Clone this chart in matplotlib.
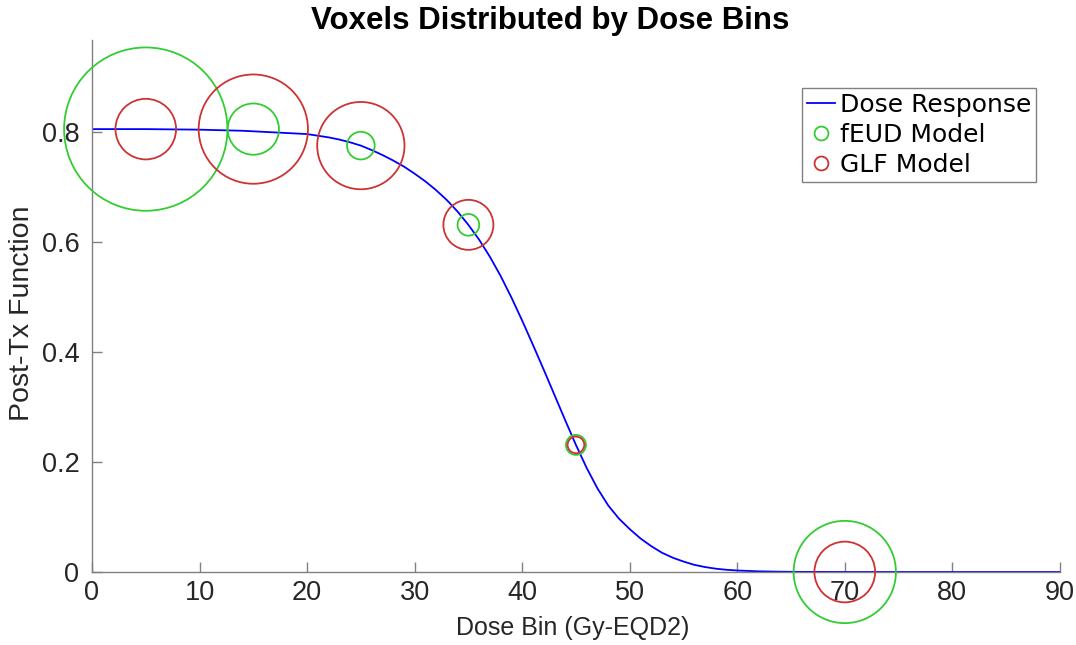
import matplotlib
matplotlib.use("Agg")
from matplotlib import pyplot as plt
from matplotlib.lines import Line2D

# dose response curve
dose = [0, 5, 10, 12, 14, 16, 18, 20, 21, 22, 23, 24, 25, 26, 27, 28, 29, 30,
        31, 32, 33, 34, 35, 36, 37, 38, 39, 40, 41, 42, 43, 44, 45, 46, 47, 48,
        49, 50, 51, 52, 53, 54, 55, 56, 57, 58, 59, 60, 62, 64, 66, 70, 80, 90]
response = [0.805, 0.805, 0.804, 0.803, 0.802, 0.800, 0.798, 0.796, 0.793, 0.790,
            0.786, 0.781, 0.775, 0.767, 0.758, 0.748, 0.737, 0.724, 0.710, 0.694,
            0.676, 0.655, 0.631, 0.604, 0.573, 0.538, 0.499, 0.457, 0.413, 0.368,
            0.322, 0.276, 0.231, 0.189, 0.152, 0.121, 0.097, 0.078, 0.061, 0.047,
            0.035, 0.026, 0.019, 0.013, 0.009, 0.006, 0.004, 0.0027, 0.0012,
            0.0005, 0.0002, 0.0, 0.0, 0.0]

# dose bins and model points
bins = [5, 15, 25, 35, 45, 70]
bin_values = [0.805, 0.805, 0.775, 0.631, 0.231, 0.0]
feud_sizes = [13830, 1364, 397, 244, 207, 5424]
glf_sizes = [1903, 6190, 3950, 1296, 144, 1910]

green = "#33cc33"
red = "#cc3333"
axis_gray = "#808080"
text_gray = "#262626"

fig = plt.figure(figsize=(10.76, 6.45), dpi=100)
ax = fig.add_axes([0.0855, 0.1132, 0.8995, 0.8248])

ax.plot(dose, response, color="#0000ff", lw=1.3, zorder=2)
ax.scatter(bins, bin_values, s=feud_sizes, facecolors="none", edgecolors=green,
           linewidths=1.3, zorder=3, clip_on=False)
ax.scatter(bins, bin_values, s=glf_sizes, facecolors="none", edgecolors=red,
           linewidths=1.3, zorder=3, clip_on=False)

ax.set_xlim(0, 90)
ax.set_ylim(0, 0.967)
ax.set_xticks(range(0, 91, 10))
ax.set_yticks([0, 0.2, 0.4, 0.6, 0.8])
ax.set_yticklabels(["0", "0.2", "0.4", "0.6", "0.8"])

for side in ["top", "right"]:
    ax.spines[side].set_visible(False)
for side in ["left", "bottom"]:
    ax.spines[side].set_color(axis_gray)
    ax.spines[side].set_linewidth(1.0)

ax.tick_params(direction="in", length=7, width=1.0, color=axis_gray,
               labelcolor=text_gray, labelsize=19.5)
ax.tick_params(axis="y", pad=9)
ax.tick_params(axis="x", pad=6)
for lab in ax.get_xticklabels() + ax.get_yticklabels():
    lab.set_family("Liberation Sans")

fig.text(0.511, 0.967, "Voxels Distributed by Dose Bins", ha="center", va="center",
         fontsize=22.5, fontweight="bold", family="Liberation Sans", color="black")
fig.text(0.532, 0.026, "Dose Bin (Gy-EQD2)", ha="center", va="center",
         fontsize=18, family="Liberation Sans", color=text_gray)
fig.text(0.0205, 0.515, "Post-Tx Function", ha="center", va="center", rotation=90,
         fontsize=20.5, family="Liberation Sans", color=text_gray)

handles = [
    Line2D([], [], color="#0000ff", lw=1.3),
    Line2D([], [], ls="none", marker="o", markersize=10, markerfacecolor="none",
           markeredgecolor=green, markeredgewidth=1.3),
    Line2D([], [], ls="none", marker="o", markersize=10, markerfacecolor="none",
           markeredgecolor=red, markeredgewidth=1.3),
]
leg = fig.legend(handles, ["Dose Response", "fEUD Model", "GLF Model"],
                 loc="upper right", bbox_to_anchor=(1036 / 1076, 1 - 88 / 645),
                 prop={"family": "DejaVu Sans", "size": 18}, frameon=True,
                 fancybox=False, edgecolor=axis_gray, framealpha=1,
                 handlelength=1.12, handletextpad=0.2, borderpad=0.2,
                 labelspacing=0.23, borderaxespad=0)
leg.get_frame().set_linewidth(1.0)

fig.savefig("out.png", dpi=100)
